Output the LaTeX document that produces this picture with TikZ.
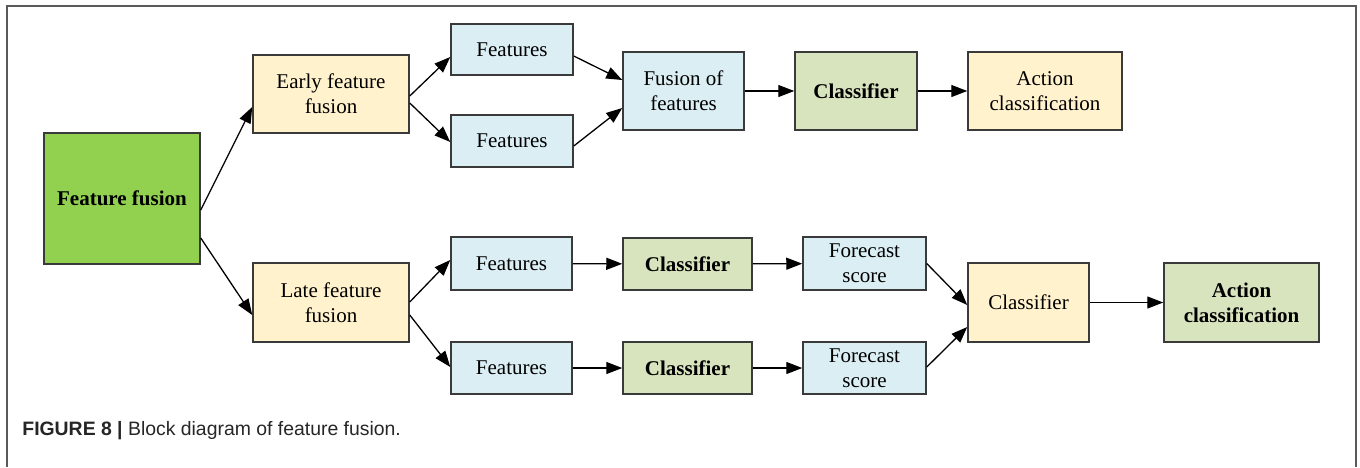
\documentclass[tikz,border=0pt]{standalone}
\usepackage{fontspec}
\IfFontExistsTF{LiberationSerif-Regular.ttf}{%
  \setmainfont{LiberationSerif-Regular.ttf}[BoldFont=LiberationSerif-Bold.ttf]}{%
  \setmainfont{Liberation Serif}}
\newfontfamily\capfont{Liberation Sans}
\usetikzlibrary{arrows.meta}
\definecolor{bgreen}{HTML}{92D050}
\definecolor{byellow}{HTML}{FFF2CC}
\definecolor{bblue}{HTML}{DAEEF3}
\definecolor{bolive}{HTML}{D7E4BD}
\definecolor{bline}{HTML}{3A3A3A}
\definecolor{frame}{HTML}{5A5A5A}
\tikzset{
  box/.style={draw=bline, line width=0.75pt, inner sep=0pt, align=center,
    font=\rmfamily\fontsize{10.5}{12.5}\selectfont},
  bbox/.style={box, font=\rmfamily\fontsize{10.5}{12.5}\selectfont\bfseries},
  arr/.style={-{Triangle[length=8pt,width=6pt]}, line width=0.65pt, black},
}
\begin{document}
\begin{tikzpicture}[x=0.5pt,y=-0.5pt]
\useasboundingbox (0,0) rectangle (1360,467);
\draw[frame, line width=0.75pt] (7,467) -- (7,6) -- (1356,6) -- (1356,467);

\node[bbox, fill=bgreen, minimum width=78pt, minimum height=65.5pt] (ff) at (122,198.5) {Feature fusion};
\node[box, fill=byellow, minimum width=78pt, minimum height=39pt] (early) at (331,94) {Early feature\\fusion};
\node[box, fill=byellow, minimum width=78pt, minimum height=39.5pt] (late) at (331,302.5) {Late feature\\fusion};
\node[box, fill=bblue, minimum width=61pt, minimum height=25.5pt] (f1) at (512,49.5) {Features};
\node[box, fill=bblue, minimum width=61pt, minimum height=26pt] (f2) at (512,141) {Features};
\node[box, fill=bblue, minimum width=60.5pt, minimum height=39pt] (fus) at (683.5,91) {Fusion of\\features};
\node[bbox, fill=bolive, minimum width=61pt, minimum height=39pt] (cl1) at (856,91) {Classifier};
\node[box, fill=byellow, minimum width=77pt, minimum height=39pt] (ac1) at (1045,91) {Action\\classification};

\node[box, fill=bblue, minimum width=60.5pt, minimum height=26.5pt] (bf1) at (511.5,263.5) {Features};
\node[box, fill=bblue, minimum width=60.5pt, minimum height=26pt] (bf2) at (511.5,368) {Features};
\node[bbox, fill=bolive, minimum width=64.5pt, minimum height=26pt] (bc1) at (687.5,264) {Classifier};
\node[bbox, fill=bolive, minimum width=64.5pt, minimum height=26pt] (bc2) at (687.5,368) {Classifier};
\node[box, fill=bblue, minimum width=61.5pt, minimum height=26.5pt] (fs1) at (864.5,263.5) {Forecast\\score};
\node[box, fill=bblue, minimum width=61.5pt, minimum height=26pt] (fs2) at (864.5,368) {Forecast\\score};
\node[box, fill=byellow, minimum width=60.5pt, minimum height=39.5pt] (ycl) at (1028.5,302.5) {Classifier};
\node[bbox, fill=bolive, minimum width=77.5pt, minimum height=39.5pt] (ac2) at (1241.5,302.5) {Action\\classification};

\draw[arr] ([shift={(0,11.5)}]ff.east) -- ([shift={(0,13)}]early.west);
\draw[arr] ([shift={(0,39.5)}]ff.east) -- ([shift={(0,12.5)}]late.west);
\draw[arr] ([shift={(0,2)}]early.east) -- ([shift={(0,7.5)}]f1.west);
\draw[arr] ([shift={(0,9)}]early.east) -- ([shift={(0,1)}]f2.west);
\draw[arr] ([shift={(0,6.5)}]f1.east) -- ([shift={(0,-11)}]fus.west);
\draw[arr] ([shift={(0,5)}]f2.east) -- ([shift={(0,17)}]fus.west);
\draw[arr] (fus) -- (cl1);
\draw[arr] (cl1) -- (ac1);

\draw[arr] ([shift={(0,-0.5)}]late.east) -- ([shift={(0,-3.5)}]bf1.west);
\draw[arr] ([shift={(0,12.5)}]late.east) -- ([shift={(0,-1)}]bf2.west);
\draw[arr] (bf1) -- (bc1);
\draw[arr] (bc1) -- (fs1);
\draw[arr] (bf2) -- (bc2);
\draw[arr] (bc2) -- (fs2);
\draw[arr] (fs1.east) -- ([shift={(0,2.5)}]ycl.west);
\draw[arr] ([shift={(0,-1)}]fs2.east) -- ([shift={(0,24.5)}]ycl.west);
\draw[arr] (ycl) -- (ac2);

\node[anchor=west, inner sep=0pt, text=black!85, font=\capfont\fontsize{9.7}{11}\selectfont] (cap) at (22,431) {\textbf{FIGURE 8 |} Block diagram of feature fusion.};
\end{tikzpicture}
\end{document}
